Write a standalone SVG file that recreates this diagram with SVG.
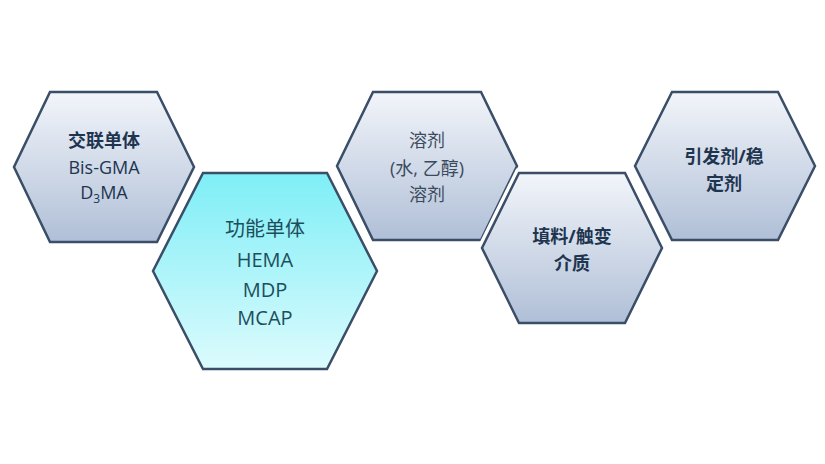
<svg xmlns="http://www.w3.org/2000/svg" width="825" height="464" viewBox="0 0 825 464">
<defs>
<linearGradient id="gGray" x1="0" y1="0" x2="0" y2="1">
<stop offset="0" stop-color="#f2f5fa"/>
<stop offset="1" stop-color="#b0bfd7"/>
</linearGradient>
<linearGradient id="gCyan" x1="0" y1="0" x2="0" y2="1">
<stop offset="0" stop-color="#7eeef6"/>
<stop offset="1" stop-color="#dcfbfd"/>
</linearGradient>
<style>
.hex{stroke:#3a4e68;stroke-width:2.5;stroke-linejoin:miter}
.gap{fill:none;stroke:#ffffff;stroke-width:9;stroke-linejoin:miter}
.g{fill:url(#gGray)}
.c{fill:url(#gCyan)}
text{font-family:"Open Sans","Noto Sans CJK SC",sans-serif;text-anchor:middle}
.t1{fill:#1e3550;font-size:18px}
.b{font-weight:bold}
.t2{fill:#1d4e5c;font-size:20px}
.t3{fill:#3b4a5c;font-size:18px}
</style>
</defs>
<rect width="825" height="464" fill="#ffffff"/>
<g id="connectors"></g>
<g id="node1">
<polygon class="hex g" points="50,92 157,92 194,167 157,242 50,242 14,167"/>
<text class="t1 b" x="104" y="147" font-size="19">交联单体</text>
<text class="t1" x="104" y="174">Bis-GMA</text>
<text class="t1" x="104" y="199">D<tspan font-size="12" dy="4">3</tspan><tspan dy="-4">MA</tspan></text>
</g>
<g id="node3">
<polygon class="hex g" points="373,92 481,92 517,166 481,240 373,240 337,166"/>
<text class="t3" x="427" y="147">溶剂</text>
<text class="t3" x="427" y="175">(水, 乙醇)</text>
<text class="t3" x="427" y="201">溶剂</text>
</g>
<g id="node5">
<polygon class="hex g" points="672,92 778,92 815,166 778,240 672,240 635,166"/>
<text class="t1 b" x="724" y="163">引发剂/稳</text>
<text class="t1 b" x="724" y="190">定剂</text>
</g>
<g id="node2">
<polygon class="gap" points="203,173 327,173 377,271 327,369 203,369 153,271"/>
<polygon class="hex c" points="203,173 327,173 377,271 327,369 203,369 153,271"/>
<text class="t2" x="265" y="236">功能单体</text>
<text class="t2" x="265" y="267">HEMA</text>
<text class="t2" x="265" y="297">MDP</text>
<text class="t2" x="265" y="325">MCAP</text>
</g>
<g id="node4">
<polygon class="gap" points="519,173 625,173 662,248 625,323 519,323 482,248"/>
<polygon class="hex g" points="519,173 625,173 662,248 625,323 519,323 482,248"/>
<text class="t1 b" x="572" y="243">填料/触变</text>
<text class="t1 b" x="572" y="270">介质</text>
</g>
</svg>
